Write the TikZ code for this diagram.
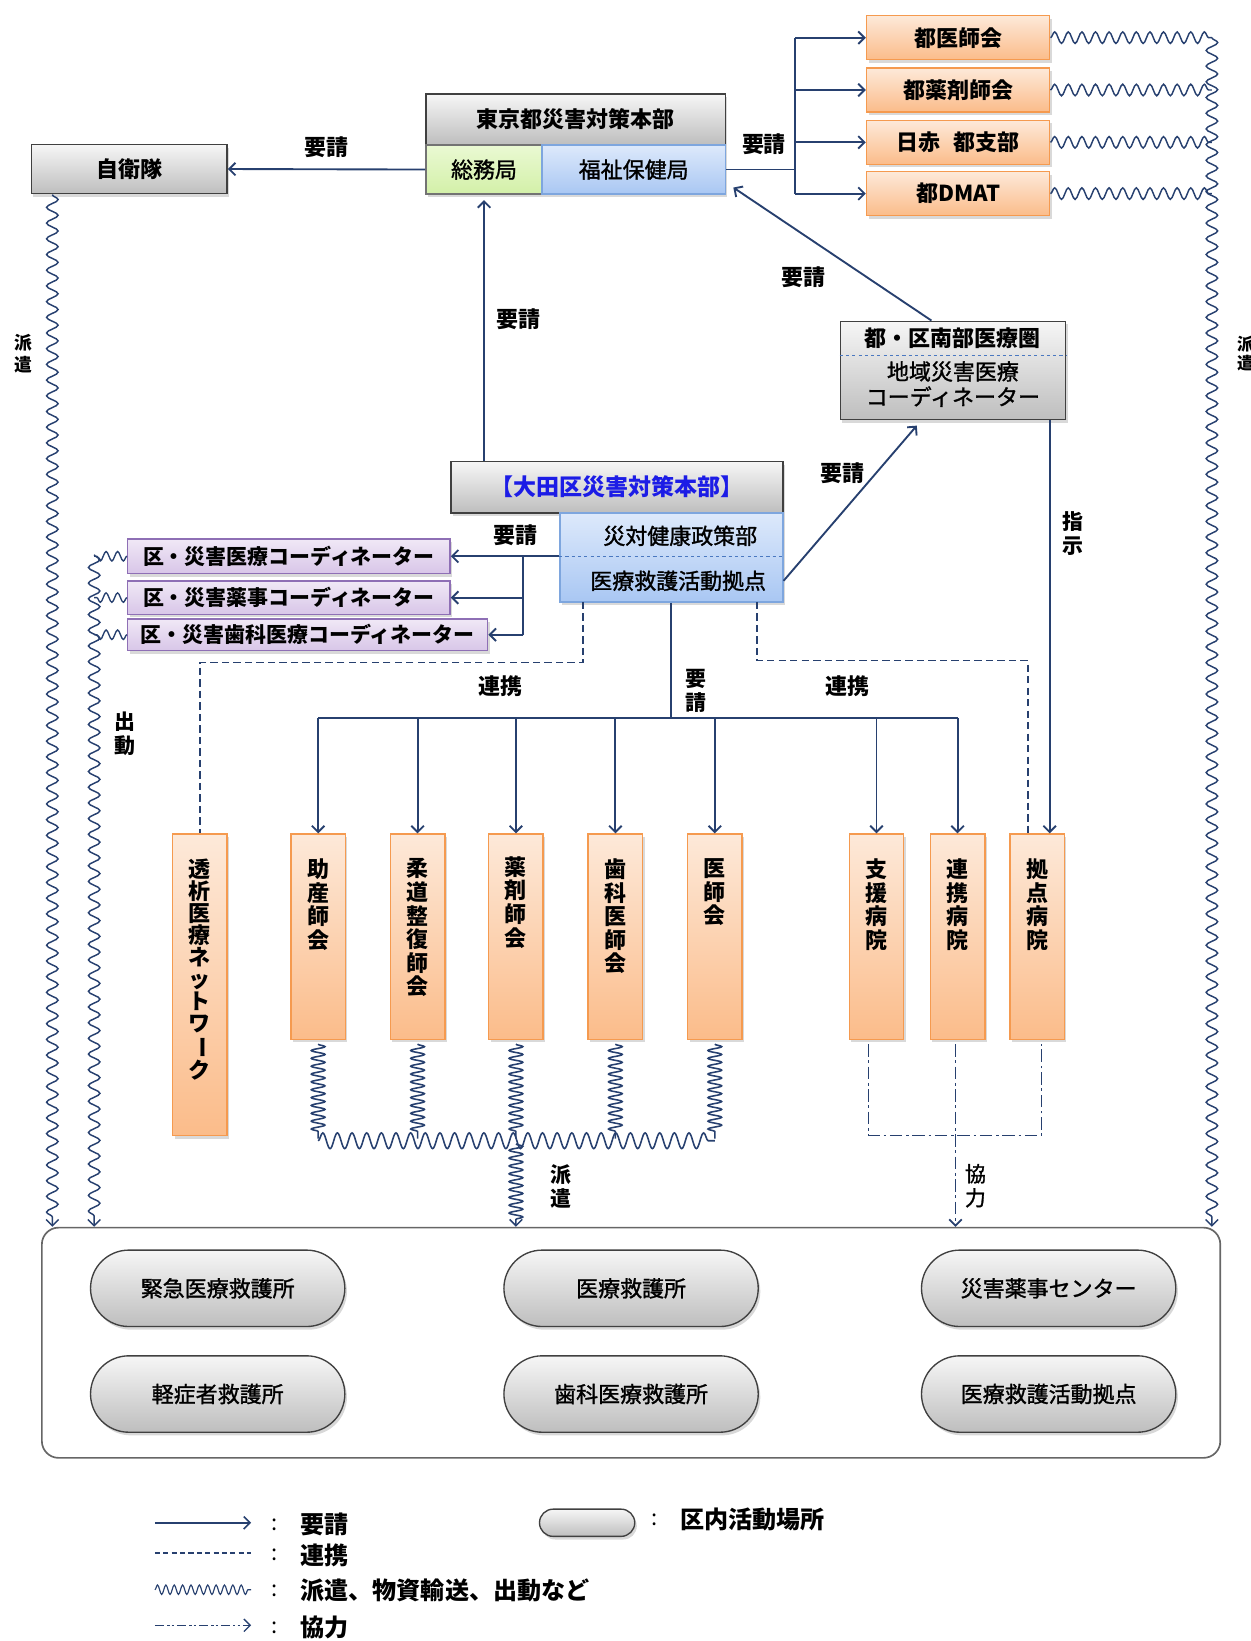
\documentclass[tikz,border=0pt]{standalone}
\usepackage{fontspec}
\setmainfont{Noto Sans CJK JP}
\newfontfamily\medfont[FakeBold=1.3]{Noto Sans CJK JP}
\usetikzlibrary{arrows.meta,decorations.pathmorphing,shadows,shapes.misc}
\definecolor{navy}{HTML}{27406F}
\definecolor{grayT}{HTML}{F6F6F6}
\definecolor{grayB}{HTML}{BEBEBE}
\definecolor{orT}{HTML}{FDE9D9}
\definecolor{orB}{HTML}{FBBC8A}
\definecolor{orD}{HTML}{F59A4F}
\definecolor{blT}{HTML}{DDE9FB}
\definecolor{blB}{HTML}{A9C7F3}
\definecolor{blD}{HTML}{7EA6DE}
\definecolor{grT}{HTML}{EAF9D3}
\definecolor{grB}{HTML}{D3F0A8}
\definecolor{puT}{HTML}{F0E8F6}
\definecolor{puB}{HTML}{D8C6E8}
\definecolor{puD}{HTML}{8E6FB5}
\definecolor{otaBlue}{HTML}{1C1CE6}
\definecolor{divBlue}{HTML}{4A78C0}
\newcommand{\FS}[1]{\fontsize{#1pt}{#1pt}\selectfont}
\newcommand{\cjkbar}{\rotatebox[origin=c]{-90}{ー}}
\begin{document}
\begin{tikzpicture}[x=1pt,y=-1pt,
  box/.style={draw, line width=1.4pt, inner sep=0pt,
    drop shadow={shadow xshift=2pt, shadow yshift=-3pt, opacity=0.3}},
  graybox/.style={box, draw=black!75, top color=grayT, bottom color=grayB},
  orbox/.style={box, draw=orD, top color=orT, bottom color=orB},
  bluebox/.style={box, draw=blD, top color=blT, bottom color=blB},
  greenbox/.style={box, draw=black!55, top color=grT, bottom color=grB},
  purbox/.style={box, draw=puD, top color=puT, bottom color=puB},
  pill/.style={rounded rectangle, draw=black!75, line width=1.3pt, top color=grayT, bottom color=grayB,
    minimum width=243pt, minimum height=73pt, inner sep=0pt, font=\FS{21}\medfont,
    drop shadow={shadow xshift=2pt, shadow yshift=-3pt, opacity=0.3}},
  lab/.style={inner sep=0pt, font=\FS{21}\bfseries},
  vlab/.style={inner sep=0pt, align=center, font=\fontsize{20pt}{23pt}\selectfont\bfseries},
  vt/.style={inner sep=0pt, align=center, font=\fontsize{21pt}{22.5pt}\selectfont\bfseries},
  ln/.style={draw=navy, line width=1.8pt},
  req/.style={ln, -{Straight Barb[length=6pt,width=12pt]}},
  dsh/.style={draw=navy, line width=1.6pt, dash pattern=on 7pt off 4pt},
  dd/.style={draw=navy, line width=1.6pt, dash pattern=on 12pt off 3.5pt on 2.5pt off 3.5pt},
  ddd/.style={draw=navy, line width=1.3pt, dash pattern=on 9pt off 3pt on 2pt off 2pt on 2pt off 3pt},
  tip/.style={-{Straight Barb[length=6pt,width=12pt]}},
  wvh/.style={draw=navy, line width=1.4pt, decorate, decoration={snake, segment length=13pt, amplitude=5.5pt}},
  wvv/.style={draw=navy, line width=1.4pt, decorate, decoration={snake, segment length=15pt, amplitude=5.5pt, post length=8pt}},
  wvs/.style={draw=navy, line width=1.3pt, decorate, decoration={snake, segment length=11pt, amplitude=4.5pt}},
  wvt/.style={draw=navy, line width=1.5pt, decorate, decoration={snake, segment length=7.5pt, amplitude=6.5pt, post length=6pt}},
  wvb/.style={draw=navy, line width=1.5pt, decorate, decoration={snake, segment length=14pt, amplitude=7.5pt}},
]
\useasboundingbox (0,0) rectangle (1195,1568);

% container
\node[draw=black!60, line width=1.6pt, rounded corners=16pt, minimum width=1126pt, minimum height=220pt, fill=white] (cont) at (603,1283) {};

% ---------------- top
\node[graybox, minimum width=187pt, minimum height=47pt, font=\FS{21}\bfseries] (jsdf) at (123.5,161.5) {自衛隊};
\node[graybox, minimum width=286pt, minimum height=48pt, font=\FS{21}\bfseries] (tokyo) at (550,114) {東京都災害対策本部};
\node[greenbox, minimum width=111pt, minimum height=47pt, font=\FS{21}\medfont] (somu) at (462.5,162) {総務局};
\node[bluebox, minimum width=175pt, minimum height=47pt, font=\FS{21}\medfont] (fukushi) at (605.5,162) {福祉保健局};

\node[orbox, minimum width=175pt, minimum height=42pt, font=\FS{21}\bfseries] (tishi) at (915.5,36) {都医師会};
\node[orbox, minimum width=175pt, minimum height=42pt, font=\FS{21}\bfseries] (tyaku) at (915.5,86) {都薬剤師会};
\node[orbox, minimum width=175pt, minimum height=42pt, font=\FS{21}\bfseries] (tnis) at (915.5,136) {日赤\hspace{0.6em}都支部};
\node[orbox, minimum width=175pt, minimum height=42pt, font=\FS{21}\bfseries] (tdmat) at (915.5,185) {都DMAT};

\draw[req] (somu.west) -- (jsdf.east);
\node[lab] (l0) at (312,141) {要請};

\coordinate (bus) at (760,162);
\draw[ln] (fukushi.east) -- (bus);
\draw[ln] (bus |- tishi.west) -- (bus |- tdmat.west);
\draw[req] (bus |- tishi.west) -- (tishi.west);
\draw[req] (bus |- tyaku.west) -- (tyaku.west);
\draw[req] (bus |- tnis.west) -- (tnis.west);
\draw[req] (bus |- tdmat.west) -- (tdmat.west);
\node[lab] (l1) at (730,138) {要請};

% right waves
\coordinate (rw) at (1158,36);
\draw[wvh] (tishi.east) -- (rw |- tishi.east);
\draw[wvh] (tyaku.east) -- (rw |- tyaku.east);
\draw[wvh] (tnis.east) -- (rw |- tnis.east);
\draw[wvh] (tdmat.east) -- (rw |- tdmat.east);
\draw[wvv, tip] (rw) -- (rw |- cont.north);
\node[inner sep=0pt, align=center, font=\fontsize{16pt}{18pt}\selectfont\bfseries] (lr) at (1190,338) {派\\遣};

% ---------------- nanbu
\node[graybox, minimum width=215pt, minimum height=94pt] (nanbu) at (910.5,354) {};
\node[inner sep=0pt, font=\FS{21}\bfseries] (nb1) at (910.5,323) {都・区南部医療圏};
\draw[draw=divBlue, dashed, line width=1pt] (nanbu.west |- 0,340) -- (nanbu.east |- 0,340);
\node[inner sep=0pt, font=\FS{21}\medfont] (nb2) at (910.5,355) {地域災害医療};
\node[inner sep=0pt, font=\FS{21}\medfont] (nb3) at (910.5,379) {コーディネーター};

\draw[req] ([xshift=-20.5pt]nanbu.north) -- ([xshift=7pt,yshift=7pt]fukushi.south east);
\node[lab] (l2) at (768,265) {要請};

% ---------------- ota
\node[graybox, minimum width=317pt, minimum height=49pt, font=\FS{22}\bfseries, text=otaBlue] (ota) at (589.5,465.5) {【大田区災害対策本部】};
\node[bluebox, minimum width=213pt, minimum height=85pt] (ota2) at (641.5,532.5) {};
\draw[draw=divBlue, dashed, line width=1pt] (ota2.west |- 0,532) -- (ota2.east |- 0,532);
\node[inner sep=0pt, font=\FS{21}\medfont] (o1) at (650,512) {災対健康政策部};
\node[inner sep=0pt, font=\FS{21}\medfont] (o2) at (648,555) {医療救護活動拠点};

\draw[req] (ota.north -| somu.south) -- ([yshift=-5pt]somu.south);
\node[lab] (l3) at (495,305) {要請};

\draw[req] (ota2.east |- 0,555) -- ([xshift=-34.5pt,yshift=-5pt]nanbu.south);
\node[lab] (l4) at (805,452) {要請};

% ---------------- purple
\node[purbox, minimum width=308pt, minimum height=33pt, font=\FS{20}\bfseries] (p1) at (276,531.5) {区・災害医療コーディネーター};
\node[purbox, minimum width=308pt, minimum height=32pt, font=\FS{20}\bfseries] (p2) at (276,571) {区・災害薬事コーディネーター};
\node[purbox, minimum width=344pt, minimum height=30pt, font=\FS{20}\bfseries] (p3) at (294,606.5) {区・災害歯科医療コーディネーター};

\coordinate (kb) at (500,531.5);
\draw[req] (ota2.west |- p1.east) -- (p1.east);
\draw[ln] (kb) -- (kb |- p3.east);
\draw[req] (kb |- p2.east) -- (p2.east);
\draw[req] (kb |- p3.east) -- (p3.east);
\node[lab] (l5) at (493,511) {要請};

\coordinate (sw) at (90,530);
\draw[wvs] (p1.west) -- (sw |- p1.west);
\draw[wvs] (p2.west) -- (sw |- p2.west);
\draw[wvs] (p3.west) -- (sw |- p3.west);
\draw[wvv, tip] (sw) -- (sw |- cont.north);
\node[vlab] (l6) at (119,701) {出\\動};

\coordinate (lw) at (50,186);
\draw[wvv, tip] (lw) -- (lw |- cont.north);
\node[inner sep=0pt, align=center, font=\fontsize{17pt}{21pt}\selectfont\bfseries] (l7) at (22,338) {派\\遣};

% ---------------- vertical boxes
\node[orbox, minimum width=52pt, minimum height=288pt] (toseki) at (191,941) {};
\node[orbox, minimum width=52pt, minimum height=196pt] (josan) at (304,895) {};
\node[orbox, minimum width=52pt, minimum height=196pt] (judo) at (399,895) {};
\node[orbox, minimum width=52pt, minimum height=196pt] (yaku) at (493,895) {};
\node[orbox, minimum width=52pt, minimum height=196pt] (shika) at (588,895) {};
\node[orbox, minimum width=52pt, minimum height=196pt] (ishi) at (683,895) {};
\node[orbox, minimum width=52pt, minimum height=196pt] (shien) at (837.5,895) {};
\node[orbox, minimum width=52pt, minimum height=196pt] (renkei) at (915,895) {};
\node[orbox, minimum width=52pt, minimum height=196pt] (kyoten) at (991,895) {};

\node[vt, anchor=north, font=\fontsize{21pt}{21pt}\selectfont\bfseries] (tt) at ([yshift=-24pt]toseki.north) {透\\析\\医\\療\\ネ\\ッ\\ト\\ワ\\\cjkbar\\ク};
\node[vt, anchor=north] (tj) at ([yshift=-24pt]josan.north) {助\\産\\師\\会};
\node[vt, anchor=north] (tu) at ([yshift=-24pt]judo.north) {柔\\道\\整\\復\\師\\会};
\node[vt, anchor=north] (ty) at ([yshift=-22pt]yaku.north) {薬\\剤\\師\\会};
\node[vt, anchor=north] (ts) at ([yshift=-24pt]shika.north) {歯\\科\\医\\師\\会};
\node[vt, anchor=north] (ti) at ([yshift=-24pt]ishi.north) {医\\師\\会};
\node[vt, anchor=north] (te) at ([yshift=-24pt]shien.north) {支\\援\\病\\院};
\node[vt, anchor=north] (tr2) at ([yshift=-24pt]renkei.north) {連\\携\\病\\院};
\node[vt, anchor=north] (tk) at ([yshift=-24pt]kyoten.north) {拠\\点\\病\\院};

% 指示
\coordinate (shj) at ([xshift=92.5pt]nanbu.south);
\draw[req] (shj) -- (shj |- kyoten.north);
\node[vlab] (l8) at (1025,510) {指\\示};

% trunk
\coordinate (tr) at (641.5,686);
\draw[ln] (ota2.south) -- (tr);
\draw[ln] (tr -| josan.north) -- (tr -| renkei.north);
\foreach \n in {josan,judo,yaku,shika,ishi,shien,renkei}
  \draw[req] (tr -| \n.north) -- (\n.north);
\node[vlab] (l9) at (665,660) {要\\請};
\node[lab] (l10) at (478,656) {連携};
\node[lab] (l11) at (810,656) {連携};

% dashed
\coordinate (d1) at (557,575);
\draw[dsh] (d1) -- (d1 |- 0,633) -| (toseki.north);
\coordinate (d2) at (723,575);
\draw[dsh] (d2) -- (d2 |- 0,631) -| ([xshift=-9pt]kyoten.north);

% bottom waves
\foreach \n in {josan,judo,yaku,shika,ishi}
  \draw[wvt] ([yshift=-4pt]\n.south) -- (\n.south |- 0,1088);
\draw[wvb] (josan.south |- 0,1090) -- (ishi.south |- 0,1090);
\draw[wvt, tip] (yaku.south |- 0,1093) -- (yaku.south |- cont.north);
\node[vlab] (l12) at (536,1134) {派\\遣};

% dash-dot
\coordinate (c1) at ([xshift=-7.5pt,yshift=-4pt]shien.south);
\coordinate (c2) at ([xshift=-2pt,yshift=-4pt]renkei.south);
\coordinate (c3) at ([xshift=4pt,yshift=-4pt]kyoten.south);
\draw[dd] (c1) -- (c1 |- 0,1085) -- (c3 |- 0,1085) -- (c3);
\draw[dd, tip] (c2) -- (c2 |- cont.north);
\node[vlab, font=\fontsize{20pt}{23pt}\selectfont\medfont] (l13) at (932,1133) {協\\力};

% pills
\node[pill] (pk) at (208,1231) {緊急医療救護所};
\node[pill] (pi) at (603,1231) {医療救護所};
\node[pill] (ps) at (1002,1231) {災害薬事センター};
\node[pill] (pl) at (208,1332) {軽症者救護所};
\node[pill] (pd) at (603,1332) {歯科医療救護所};
\node[pill] (pa) at (1002,1332) {医療救護活動拠点};

% legend
\coordinate (la1) at (148,1455); \coordinate (la2) at (240,1455);
\draw[req, line width=1.5pt] (la1) -- (la2);
\node[inner sep=0pt, font=\FS{21}] (lc1) at (262,1457) {:};
\node[lab, font=\FS{23}\bfseries, anchor=west] (lt1) at (287,1457) {要請};
\coordinate (lb1) at (148,1484); \coordinate (lb2) at (240,1484);
\draw[dsh, line width=1.2pt, dash pattern=on 5pt off 3pt] (lb1) -- (lb2);
\node[inner sep=0pt, font=\FS{21}] (lc2) at (262,1486) {:};
\node[lab, font=\FS{23}\bfseries, anchor=west] (lt2) at (287,1486) {連携};
\coordinate (lw1) at (148,1519); \coordinate (lw2) at (240,1519);
\draw[draw=navy, line width=1.1pt, decorate, decoration={snake, segment length=8pt, amplitude=4.5pt}] (lw1) -- (lw2);
\node[inner sep=0pt, font=\FS{21}] (lc3) at (262,1520) {:};
\node[lab, font=\FS{23}\bfseries, anchor=west] (lt3) at (287,1520) {派遣、物資輸送、出動など};
\coordinate (ld1) at (148,1553); \coordinate (ld2) at (240,1553);
\draw[ddd, line width=1.3pt, tip] (ld1) -- (ld2);
\node[inner sep=0pt, font=\FS{21}] (lc4) at (262,1555) {:};
\node[lab, font=\FS{23}\bfseries, anchor=west] (lt4) at (287,1555) {協力};
\node[pill, minimum width=91pt, minimum height=26pt] (lp) at (561,1455) {};
\node[inner sep=0pt, font=\FS{21}] (lc5) at (625,1452) {:};
\node[lab, font=\FS{23}\bfseries, anchor=west] (lt5) at (650,1452) {区内活動場所};
\end{tikzpicture}
\end{document}
